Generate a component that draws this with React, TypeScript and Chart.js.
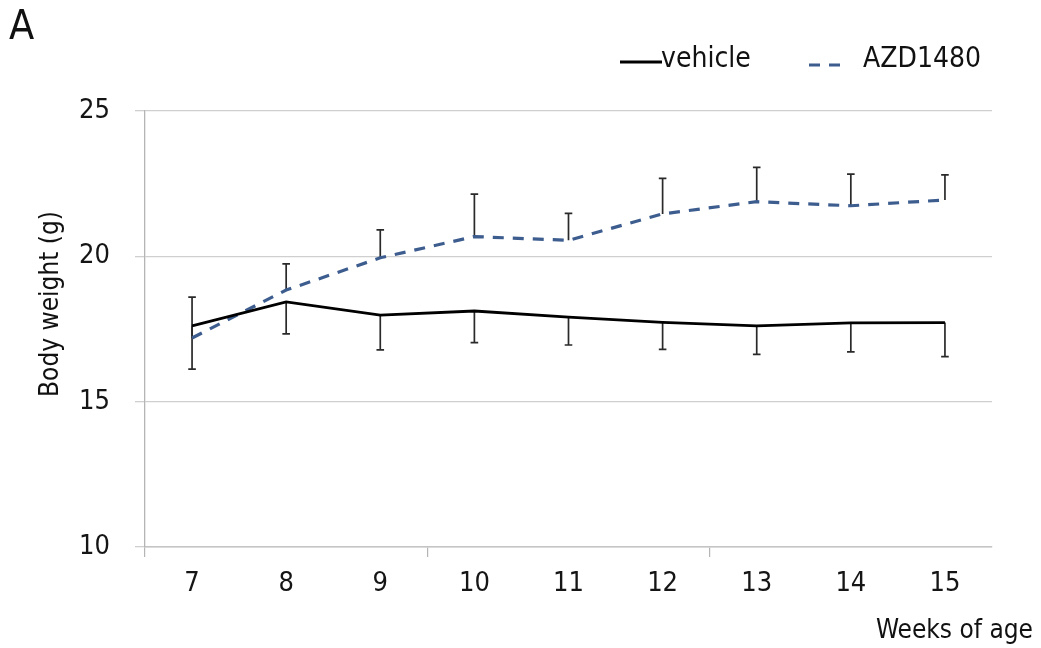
import React, { useEffect, useRef } from "react";
import { Chart, registerables } from "chart.js";

Chart.register(...registerables);

const weeks = ["7", "8", "9", "10", "11", "12", "13", "14", "15"];
const vehicleMean = [17.61, 18.43, 17.98, 18.12, 17.91, 17.73, 17.61, 17.71, 17.72];
const vehicleErr = [1.49, 1.1, 1.2, 1.09, 0.96, 0.93, 0.98, 1.0, 1.17];
const azdMean = [17.19, 18.84, 19.95, 20.68, 20.55, 21.46, 21.88, 21.74, 21.94];
const azdErr = [1.41, 0.9, 0.96, 1.46, 0.93, 1.22, 1.18, 1.09, 0.86];
const yTicks = [10, 15, 20, 25];

const FONT = '"DejaVu Sans Condensed", "DejaVu Sans", sans-serif';
const AZD_COLOR = "#3d5d8f";

const errorBarPlugin = {
  id: "errorBars",
  beforeDatasetsDraw(chart: any) {
    const { ctx } = chart;
    const xs = chart.scales.x;
    const ys = chart.scales.y;
    const series = [
      { mean: vehicleMean, err: vehicleErr, dir: -1 },
      { mean: azdMean, err: azdErr, dir: 1 },
    ];
    ctx.save();
    ctx.strokeStyle = "#2a2a2a";
    ctx.lineWidth = 1.7;
    series.forEach((s) => {
      s.mean.forEach((m, i) => {
        const x = xs.getPixelForValue(i);
        const y0 = ys.getPixelForValue(m);
        const y1 = ys.getPixelForValue(m + s.dir * s.err[i]);
        ctx.beginPath();
        ctx.moveTo(x, y0);
        ctx.lineTo(x, y1);
        ctx.moveTo(x - 3.8, y1);
        ctx.lineTo(x + 3.8, y1);
        ctx.stroke();
      });
    });
    ctx.restore();
  },
};

const textPlugin = {
  id: "texts",
  afterDraw(chart: any) {
    const { ctx } = chart;
    ctx.save();
    ctx.fillStyle = "#111";
    // panel letter
    ctx.font = `41px ${FONT}`;
    ctx.textAlign = "left";
    ctx.textBaseline = "middle";
    ctx.fillText("A", 9, 28);
    // legend
    ctx.font = `28px ${FONT}`;
    ctx.strokeStyle = "#000";
    ctx.lineWidth = 2.8;
    ctx.beginPath();
    ctx.moveTo(620, 62);
    ctx.lineTo(662, 62);
    ctx.stroke();
    ctx.fillText("vehicle", 661, 60);
    ctx.strokeStyle = AZD_COLOR;
    ctx.lineWidth = 3.2;
    ctx.setLineDash([11, 9]);
    ctx.beginPath();
    ctx.moveTo(809, 65);
    ctx.lineTo(842, 65);
    ctx.stroke();
    ctx.setLineDash([]);
    ctx.fillText("AZD1480", 863, 60);
    // axis titles
    ctx.font = `26px ${FONT}`;
    ctx.textAlign = "right";
    ctx.fillText("Weeks of age", 1033, 631);
    ctx.translate(51, 304);
    ctx.rotate(-Math.PI / 2);
    ctx.textAlign = "center";
    ctx.fillText("Body weight (g)", 0, 0);
    ctx.restore();
  },
};

export default function App() {
  const ref = useRef<HTMLCanvasElement>(null);
  useEffect(() => {
    if (!ref.current) return;
    const chart = new Chart(ref.current, {
      type: "line",
      data: {
        labels: weeks,
        datasets: [
          {
            label: "vehicle",
            data: vehicleMean,
            borderColor: "#000",
            borderWidth: 2.8,
            pointRadius: 0,
            tension: 0,
          },
          {
            label: "AZD1480",
            data: azdMean,
            borderColor: AZD_COLOR,
            borderWidth: 3.2,
            borderDash: [11, 9],
            pointRadius: 0,
            tension: 0,
          },
        ],
      },
      options: {
        responsive: false,
        animation: false,
        devicePixelRatio: 1,
        layout: { padding: { top: 111, right: 49, left: 0, bottom: 0 } },
        plugins: { legend: { display: false }, tooltip: { enabled: false } },
        scales: {
          x: {
            type: "category",
            offset: true,
            afterFit: (s: any) => {
              s.height = 101;
            },
            grid: {
              offset: true,
              drawOnChartArea: false,
              drawTicks: true,
              tickLength: 10,
              lineWidth: 1.2,
              color: (c: any) => (c.index % 3 === 0 ? "#b5b5b5" : "rgba(0,0,0,0)"),
            },
            border: { display: true, color: "#c4c4c4", width: 1.5 },
            ticks: {
              color: "#151515",
              font: { family: FONT, size: 27 },
              padding: 11,
              maxRotation: 0,
            },
          },
          y: {
            min: 10,
            max: 25,
            afterFit: (s: any) => {
              s.width = 145;
            },
            afterBuildTicks: (s: any) => {
              s.ticks = yTicks.map((v) => ({ value: v }));
            },
            grid: {
              color: "#cfcfcf",
              lineWidth: 1.3,
              drawTicks: true,
              tickLength: 10,
            },
            border: { display: true, color: "#b5b5b5", width: 1.3 },
            ticks: {
              color: "#151515",
              font: { family: FONT, size: 27 },
              padding: 25,
            },
          },
        },
      },
      plugins: [errorBarPlugin, textPlugin],
    });
    return () => chart.destroy();
  }, []);
  return (
    <div style={{ position: "absolute", left: 0, top: 0, width: 1041, height: 648, background: "#fff" }}>
      <canvas ref={ref} width={1041} height={648} style={{ display: "block" }} />
    </div>
  );
}
